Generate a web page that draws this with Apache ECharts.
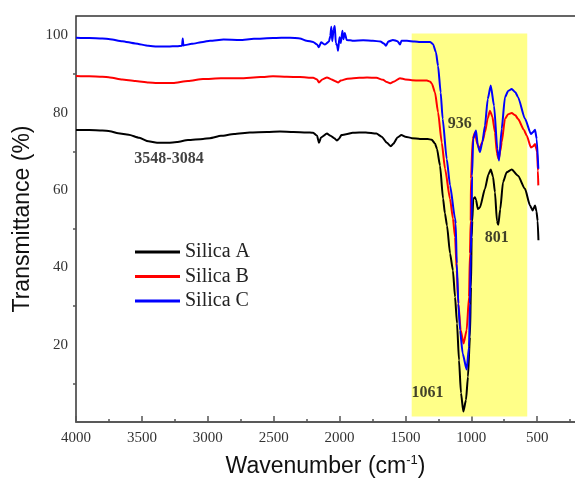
<!DOCTYPE html>
<html>
<head>
<meta charset="utf-8">
<script src="https://cdn.jsdelivr.net/npm/echarts@6/dist/echarts.min.js"></script>
<style>
html,body{margin:0;padding:0;background:#fff;overflow:hidden;}
#chart{width:612px;height:485px;}
</style>
</head>
<body>
<div id="chart"></div>
<script>
// ---------- DATA ----------
const seriesNames = ['Silica A', 'Silica B', 'Silica C'];

const silicaA = [[4000,75.5],[3900,75.5],[3800,75.4],[3742,75.2],[3680,74.7],[3600,74.3],[3520,73.5],[3450,72.6],[3385,72.2],[3300,72.2],[3233,72.4],[3150,72.9],[3036,73.2],[2983,73.4],[2900,74.0],[2800,74.5],[2680,74.9],[2550,75.0],[2452,75.1],[2350,75.0],[2250,74.9],[2200,74.8],[2170,74.0],[2156,72.2],[2140,73.6],[2095,74.6],[2072,74.1],[2040,73.4],[2020,72.8],[2005,73.2],[1985,74.2],[1950,74.4],[1900,74.8],[1800,74.9],[1720,74.6],[1680,73.8],[1640,72.2],[1610,71.3],[1590,72.0],[1560,73.6],[1530,74.2],[1500,73.8],[1450,73.4],[1389,73.2],[1330,73.2],[1300,73.0],[1275,72.0],[1260,70.6],[1237,66.3],[1214,57.8],[1200,54.0],[1184,50.8],[1161,43.6],[1139,39.2],[1123,32.3],[1108,25.5],[1093,16.0],[1078,7.5],[1060,2.7],[1040,5.7],[1025,11.7],[1010,22.0],[1002,34.9],[997,47.8],[992,52.0],[985,57.7],[972,58.1],[964,57.5],[950,55.1],[934,55.5],[896,60.3],[870,64.0],[852,65.3],[835,63.5],[820,59.4],[805,52.0],[795,51.0],[780,55.0],[759,62.0],[731,64.6],[693,65.3],[645,63.7],[592,60.3],[554,56.0],[534,54.7],[516,56.0],[505,54.5],[496,52.0],[490,47.0]];

const silicaB = [[4000,89.5],[3900,89.4],[3800,89.3],[3742,89.1],[3650,88.6],[3550,88.2],[3450,87.8],[3385,87.7],[3264,87.7],[3150,88.2],[3036,88.7],[2900,88.9],[2755,88.9],[2600,89.2],[2505,89.4],[2400,89.3],[2300,89.2],[2200,89.0],[2170,88.6],[2156,87.8],[2130,88.6],[2095,89.1],[2060,88.6],[2030,88.1],[2011,87.8],[1990,88.3],[1940,88.8],[1850,89.0],[1791,89.1],[1720,89.0],[1670,88.5],[1640,87.9],[1617,87.6],[1590,88.0],[1541,88.9],[1500,88.6],[1450,88.4],[1389,88.3],[1336,88.3],[1310,88.0],[1298,87.4],[1275,85.2],[1252,80.1],[1224,72.3],[1199,65.5],[1161,57.7],[1139,52.6],[1123,47.8],[1110,39.2],[1098,30.7],[1080,23.7],[1058,20.3],[1035,23.7],[1017,32.3],[1010,43.6],[1004,52.0],[1002,62.9],[989,73.2],[972,74.9],[955,72.0],[939,70.6],[915,72.5],[896,74.9],[875,78.5],[858,80.5],[840,79.0],[820,74.9],[805,69.5],[792,68.0],[780,70.0],[769,72.3],[744,78.4],[720,79.6],[693,79.9],[665,79.3],[645,78.4],[600,75.5],[579,74.1],[547,71.0],[530,71.3],[516,71.9],[505,70.5],[500,69.8],[494,65.0],[491,61.2]];

const silicaC = [[4000,99.4],[3900,99.3],[3800,99.2],[3742,99.0],[3650,98.5],[3550,97.9],[3450,97.3],[3385,97.1],[3300,97.1],[3233,97.2],[3195,97.3],[3190,99.2],[3185,97.4],[3120,97.8],[3036,98.3],[2983,98.6],[2880,98.9],[2755,98.8],[2650,99.1],[2505,99.3],[2376,99.4],[2300,99.2],[2250,98.6],[2200,98.3],[2170,97.6],[2156,96.9],[2140,98.2],[2110,97.6],[2080,98.4],[2070,99.8],[2062,102.2],[2055,98.5],[2045,101.5],[2036,102.4],[2028,98.0],[2018,97.4],[2011,96.0],[2000,99.5],[1990,98.0],[1978,101.2],[1970,99.0],[1960,100.6],[1945,98.8],[1920,98.7],[1898,98.6],[1820,98.7],[1746,98.6],[1690,98.4],[1660,97.8],[1647,97.3],[1630,98.4],[1594,98.8],[1560,98.5],[1541,97.6],[1530,98.6],[1488,98.6],[1430,98.4],[1389,98.3],[1313,98.3],[1290,97.7],[1268,95.6],[1252,92.1],[1232,85.2],[1217,78.4],[1186,68.0],[1161,61.2],[1123,52.6],[1118,51.3],[1110,41.0],[1098,30.6],[1085,23.7],[1065,17.7],[1035,13.6],[1017,19.4],[1010,30.6],[1004,43.5],[997,52.0],[994,63.7],[985,73.2],[964,75.4],[950,71.5],[934,69.8],[915,72.5],[896,76.6],[875,83.5],[852,87.0],[827,81.8],[802,70.6],[789,67.6],[769,75.8],[744,84.0],[720,85.6],[693,86.1],[665,85.3],[645,84.0],[592,78.4],[547,74.5],[530,75.0],[516,75.6],[503,73.2],[491,65.5]];

const yLabelValues = [20, 40, 60, 80, 100];
const yMinorValues = [10, 30, 50, 70, 90];
const xTickLabels = [500, 1000, 1500, 2000, 2500, 3000, 3500, 4000];
const highlightRange = [[1452, 1.4], [575, 100.5]];
const annotations = [
  {text: '3548-3084', x: 3294, y: 68.1},
  {text: '936', x: 1088, y: 77.1},
  {text: '801', x: 807, y: 47.5},
  {text: '1061', x: 1332, y: 7.6}
];
// ---------- CHART ----------
const serif = "'Liberation Serif','Times New Roman',serif";
const sans = "'Liberation Sans',Arial,sans-serif";
const colors = ['#000000', '#ff0000', '#0000ff'];
const chart = echarts.init(document.getElementById('chart'), null, {renderer: 'canvas'});

const lineSeries = [silicaA, silicaB, silicaC].map((d, i) => ({
  name: seriesNames[i],
  type: 'line',
  data: d,
  showSymbol: false,
  smooth: 0.2,
  smoothMonotone: 'x',
  z: 3,
  lineStyle: {color: colors[i], width: 2},
  itemStyle: {color: colors[i]}
}));

const option = {
  animation: false,
  backgroundColor: '#ffffff',
  grid: {left: 76, top: 16, width: 527, bottom: 63, show: true, borderColor: '#333', borderWidth: 1.5, backgroundColor: 'transparent'},
  legend: {
    data: seriesNames,
    orient: 'vertical',
    left: 135, top: 242,
    padding: 0,
    itemGap: 4.5,
    itemWidth: 45, itemHeight: 3,
    icon: 'rect',
    textStyle: {fontFamily: serif, fontSize: 20, color: '#222'}
  },
  xAxis: {
    type: 'value',
    inverse: true,
    min: 0, max: 4000, interval: 500,
    name: 'Wavenumber (cm{sup|-1})',
    nameLocation: 'middle',
    nameGap: 32,
    nameTextStyle: {fontFamily: sans, fontSize: 23, color: '#111', padding: [0, 28, 0, 0],
      rich: {sup: {fontFamily: sans, fontSize: 13, color: '#111', verticalAlign: 'top', padding: [0, 0, 12, 0]}}},
    axisLine: {show: true, lineStyle: {color: '#555', width: 1.5}},
    axisTick: {show: true, inside: true, length: 6, lineStyle: {color: '#555', width: 1.5}},
    minorTick: {show: true, splitNumber: 2, length: 3, lineStyle: {color: '#555', width: 1.5}},
    axisLabel: {fontFamily: serif, fontSize: 15, color: '#333', margin: 9,
      formatter: v => xTickLabels.indexOf(v) >= 0 ? String(v) : ''},
    splitLine: {show: false}
  },
  yAxis: [{
    type: 'value',
    min: 0, max: 105,
    name: 'Transmittance (%)',
    nameLocation: 'middle',
    nameGap: 42,
    nameTextStyle: {fontFamily: sans, fontSize: 23, color: '#111'},
    axisLine: {show: true, lineStyle: {color: '#555', width: 1.5}},
    axisTick: {show: true, inside: false, length: 6, customValues: yLabelValues, lineStyle: {color: '#555', width: 1.5}},
    axisLabel: {fontFamily: serif, fontSize: 15, color: '#333', margin: 8, customValues: yLabelValues},
    splitLine: {show: false}
  }, {
    type: 'value',
    position: 'left',
    min: 0, max: 105,
    axisLine: {show: false},
    axisTick: {show: true, inside: false, length: 3, customValues: yMinorValues, lineStyle: {color: '#555', width: 1.5}},
    axisLabel: {show: false},
    splitLine: {show: false}
  }],
  series: [
    {
      name: 'highlight',
      type: 'line',
      data: [],
      z: 1,
      silent: true,
      markArea: {
        silent: true,
        itemStyle: {color: '#ffff88', opacity: 1},
        data: [[{xAxis: highlightRange[0][0], yAxis: highlightRange[0][1]}, {xAxis: highlightRange[1][0], yAxis: highlightRange[1][1]}]]
      }
    },
    ...lineSeries,
    {
      name: 'annotations',
      type: 'scatter',
      z: 5,
      symbolSize: 1,
      itemStyle: {color: 'rgba(0,0,0,0)'},
      data: annotations.map(a => ({name: a.text, value: [a.x, a.y]})),
      label: {show: true, position: 'inside', formatter: '{b}', fontFamily: serif, fontWeight: 'bold', fontSize: 16, color: '#111'}
    }
  ]
};
chart.setOption(option);
</script>
</body>
</html>
